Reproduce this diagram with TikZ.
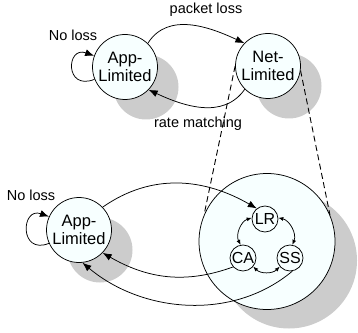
\documentclass[tikz,border=0pt]{standalone}
\usepackage{fontspec}
\setmainfont{Liberation Sans}
\usetikzlibrary{arrows.meta}
\definecolor{nodefill}{HTML}{F7FFFF}
\definecolor{shadowgray}{HTML}{CCCCCC}
\tikzset{
  state/.style={circle,draw=black,line width=0.75pt,fill=nodefill,minimum size=65pt,inner sep=0pt,align=center,font=\fontsize{16.5}{17.5}\selectfont},
  bigstate/.style={circle,draw=black,line width=0.75pt,fill=nodefill,minimum size=136pt,inner sep=0pt},
  substate/.style={circle,draw=black,line width=0.75pt,fill=nodefill,minimum size=26pt,inner sep=0pt,font=\fontsize{16}{17}\selectfont},
  shadowc/.style={fill=shadowgray,draw=none},
  lbl/.style={font=\fontsize{14.5}{16}\selectfont,inner sep=0pt},
  arr/.style={line width=0.75pt,-{Latex[length=9pt,width=7pt]}},
  sarr/.style={line width=0.75pt,{Latex[length=5pt,width=4pt]}-{Latex[length=5pt,width=4pt]}},
  dashln/.style={line width=0.9pt,dash pattern=on 6pt off 3.5pt}
}
\begin{document}
\begin{tikzpicture}[x=1pt,y=1pt]
\useasboundingbox (0,0) rectangle (358,332);
% shadows
\fill[shadowc] (146,245) circle (32.5);
\fill[shadowc] (289,246) circle (32.5);
\fill[shadowc] (100,82) circle (32.5);
\fill[shadowc] (289,71.5) circle (68);
% nodes
\node[state] (app1) at (125,265) {App-\\Limited};
\node[state] (net) at (268,266) {Net-\\Limited};
\node[state] (app2) at (79,102) {App-\\Limited};
\node[bigstate] (big) at (267,90.5) {};
\node[substate] (lr) at (265,113) {LR};
\node[substate] (ca) at (243,74) {CA};
\node[substate] (ss) at (290,74) {SS};
% labels
\node[lbl] (nl1) at (73,297) {No loss};
\node[lbl] (pl) at (206,322) {packet loss};
\node[lbl] (rm) at (198,208) {rate matching};
\node[lbl] (nl2) at (31,137) {No loss};
% dashed
\draw[dashln] (net.180) -- (big.157);
\draw[dashln] (net.-8) -- (big.23);
% top arrows
\draw[arr] (app1.202) .. controls +(-30,-12) and +(-28,10) .. (app1.160);
\draw[arr] (app1.46) to[out=58,in=155] (net.136);
\draw[arr] (net.225) to[out=235,in=-25] (app1.-44);
% bottom arrows
\draw[arr] (app2.204) .. controls +(-30,-12) and +(-28,10) .. (app2.156);
\draw[arr] (app2.44) to[out=35,in=150] (lr.128);
\draw[arr] (ca.222) to[out=200,in=-30] (app2.-44);
\draw[arr] (ss.-80) to[out=-140,in=-40,looseness=0.95] (app2.-84);
% inner
\draw[sarr] (lr.175) to[bend right=50] (ca.100);
\draw[sarr] (lr.5) to[bend left=50] (ss.80);
\draw[sarr] (ca.-40) to[bend right=45] (ss.-140);
\end{tikzpicture}
\end{document}
